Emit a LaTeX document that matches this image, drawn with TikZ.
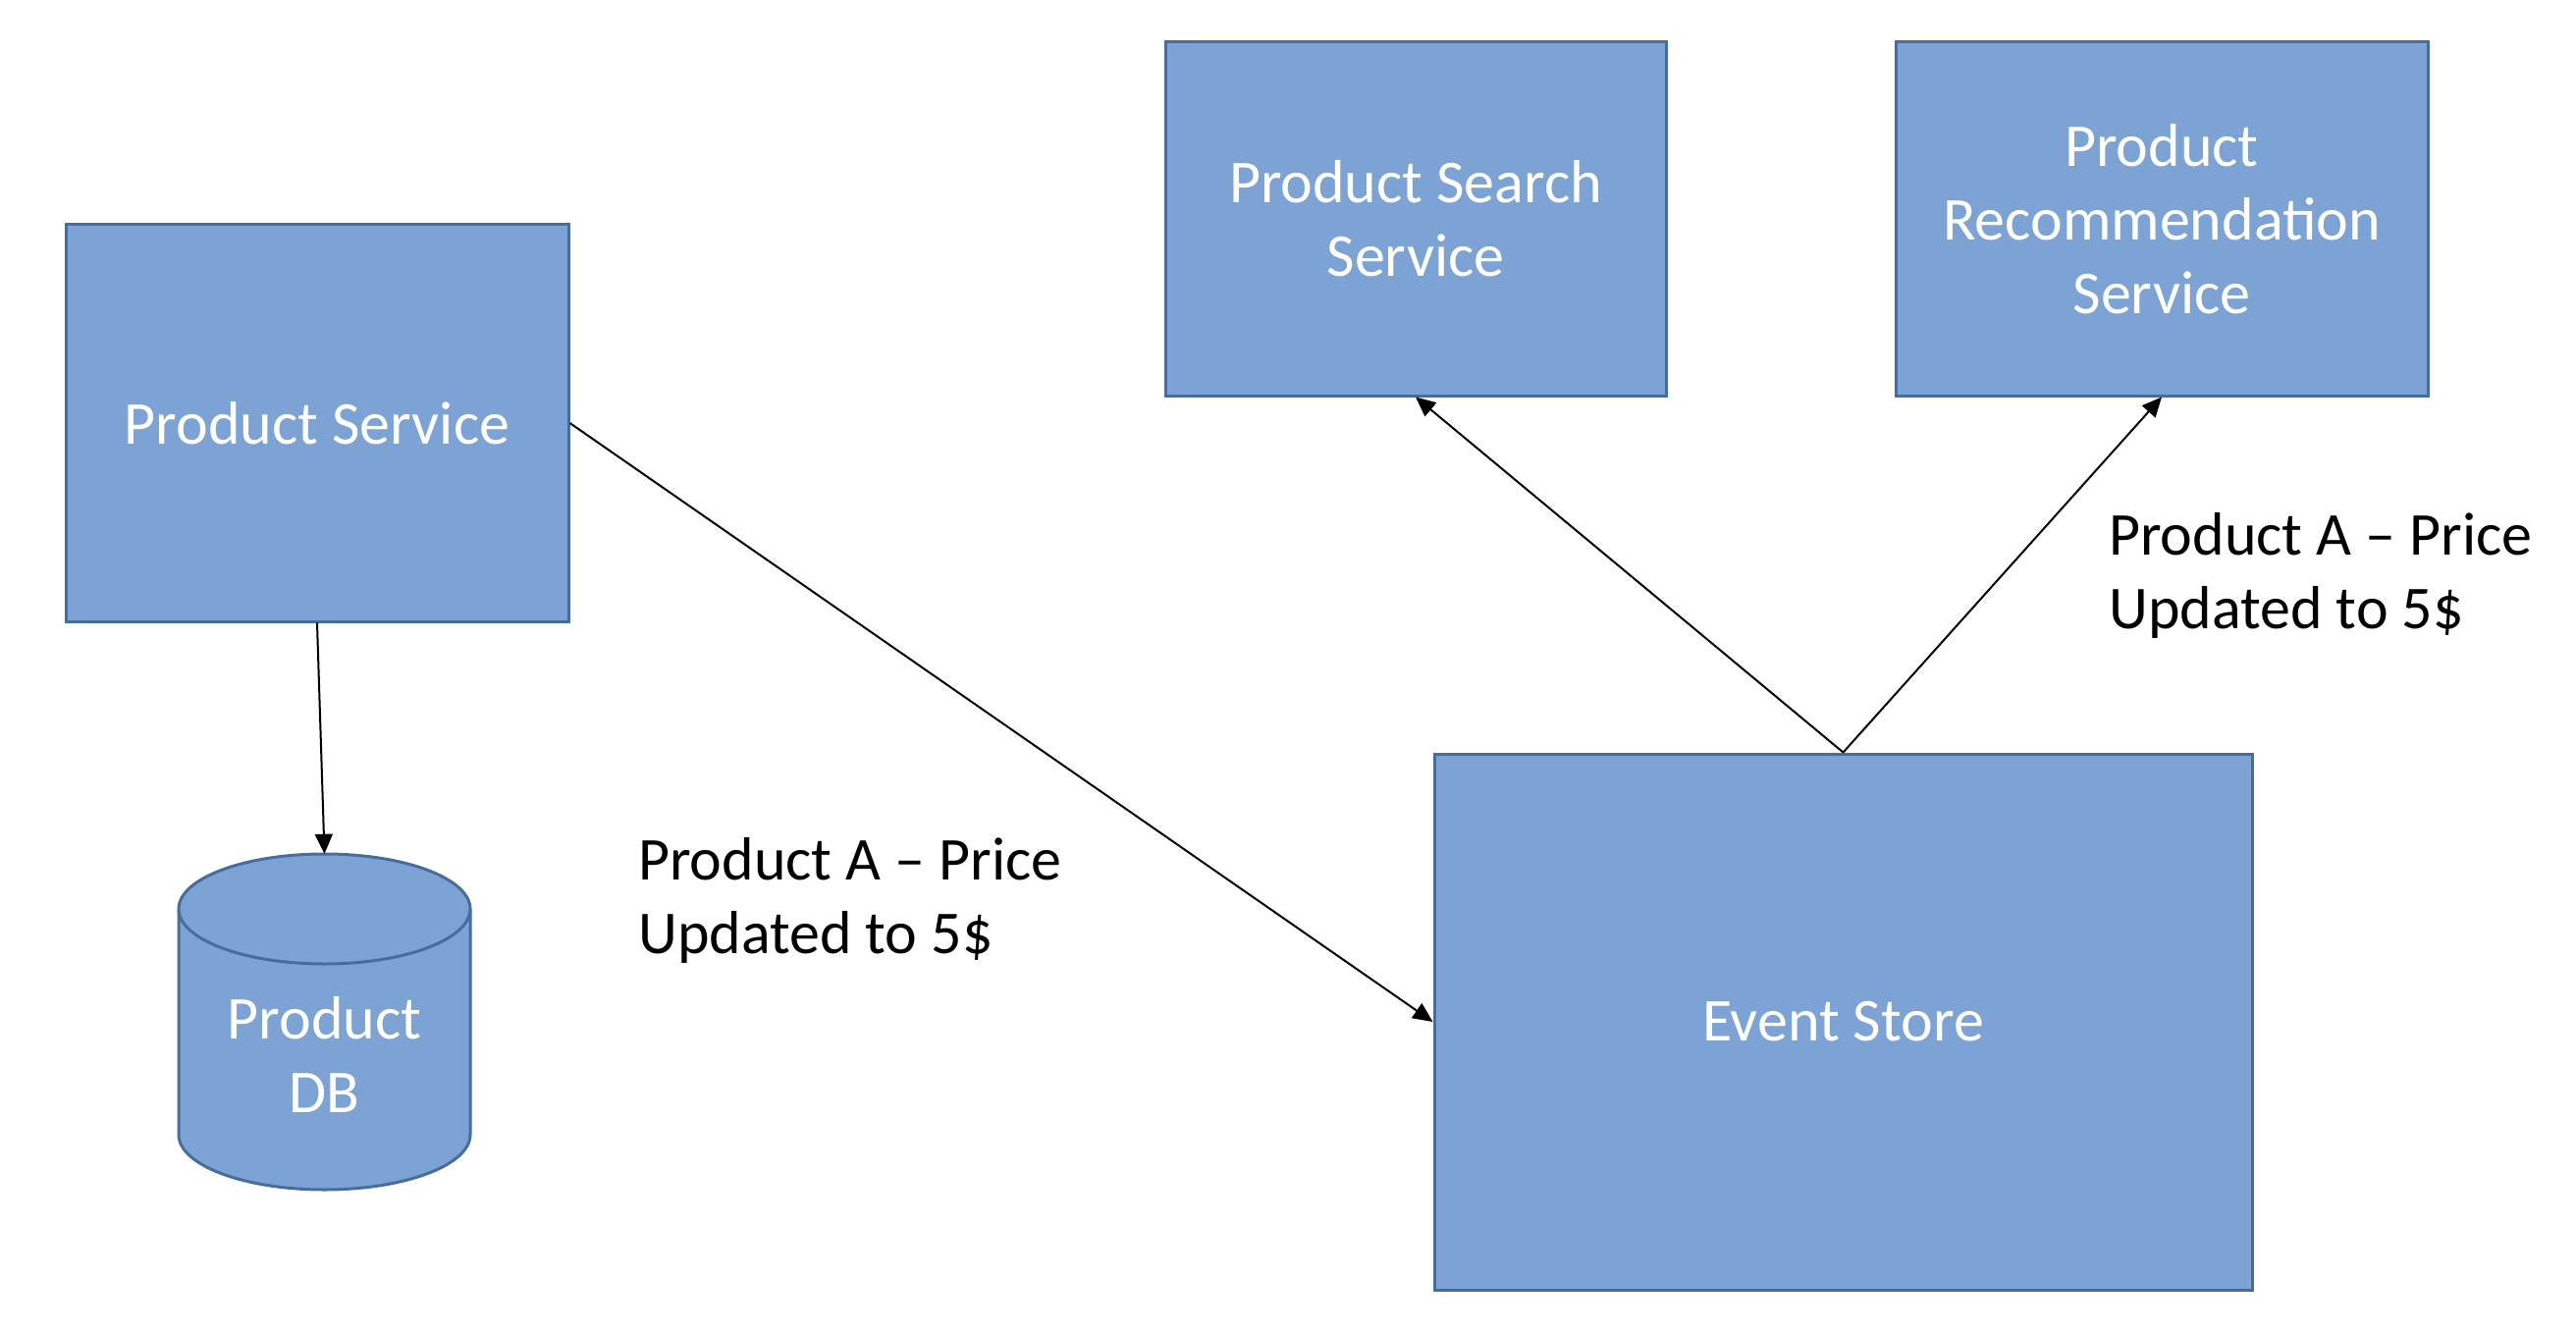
\documentclass[tikz,border=0pt]{standalone}
\usepackage{fontspec}
\setmainfont{Carlito}
\usetikzlibrary{arrows.meta}
\definecolor{boxfill}{RGB}{124,163,212}
\definecolor{boxline}{RGB}{72,108,158}
\begin{document}
\begin{tikzpicture}[x=1pt,y=1pt,
  svc/.style={draw=boxline, line width=3pt, fill=boxfill, text=white, align=center,
    font=\fontsize{62}{75}\selectfont, inner sep=0pt},
  conn/.style={line width=2pt, -{Triangle[length=20pt,width=18pt]}},
  lbl/.style={font=\fontsize{62}{75}\selectfont, anchor=base west, inner sep=0pt}]
\useasboundingbox[fill=white] (0,0) rectangle (2624,-1356);
% boxes
\node[svc, minimum width=512pt, minimum height=404pt] (ps) at (323,-431) {Product Service};
\node[svc, minimum width=510pt, minimum height=360pt] (search) at (1442,-223) {Product Search\\Service};
\node[svc, minimum width=542pt, minimum height=360pt] (rec) at (2202,-223) {Product\\Recommendation\\Service};
\node[svc, minimum width=833pt, minimum height=546pt] (es) at (1877.5,-1041) {Event Store};
% database cylinder
\path[draw=boxline, line width=3pt, fill=boxfill]
  (182,-926) -- (182,-1156) arc[start angle=180, end angle=360, x radius=148.5, y radius=56]
  -- (479,-926) arc[start angle=0, end angle=180, x radius=148.5, y radius=56] -- cycle;
\draw[boxline, line width=3pt] (182,-926) arc[start angle=180, end angle=360, x radius=148.5, y radius=56];
\node[minimum width=297pt, minimum height=342pt, inner sep=0pt] (db) at (330.5,-1041) {};
\node[svc, draw=none, fill=none] (dbtext) at (330.5,-1074) {Product\\DB};
% connectors
\draw[conn] (ps.south) -- (db.north);
\draw[conn] (ps.east) -- (es.west);
\draw[conn] (es.north) -- (search.south);
\draw[conn] (es.north) -- (rec.south);
% labels
\node[lbl] (lab1) at (650,-896) {\begin{tabular}[t]{@{}l@{}}Product A -- Price\\Updated to 5\$\end{tabular}};
\node[lbl] (lab2) at (2148,-565) {\begin{tabular}[t]{@{}l@{}}Product A -- Price\\Updated to 5\$\end{tabular}};
\end{tikzpicture}
\end{document}
